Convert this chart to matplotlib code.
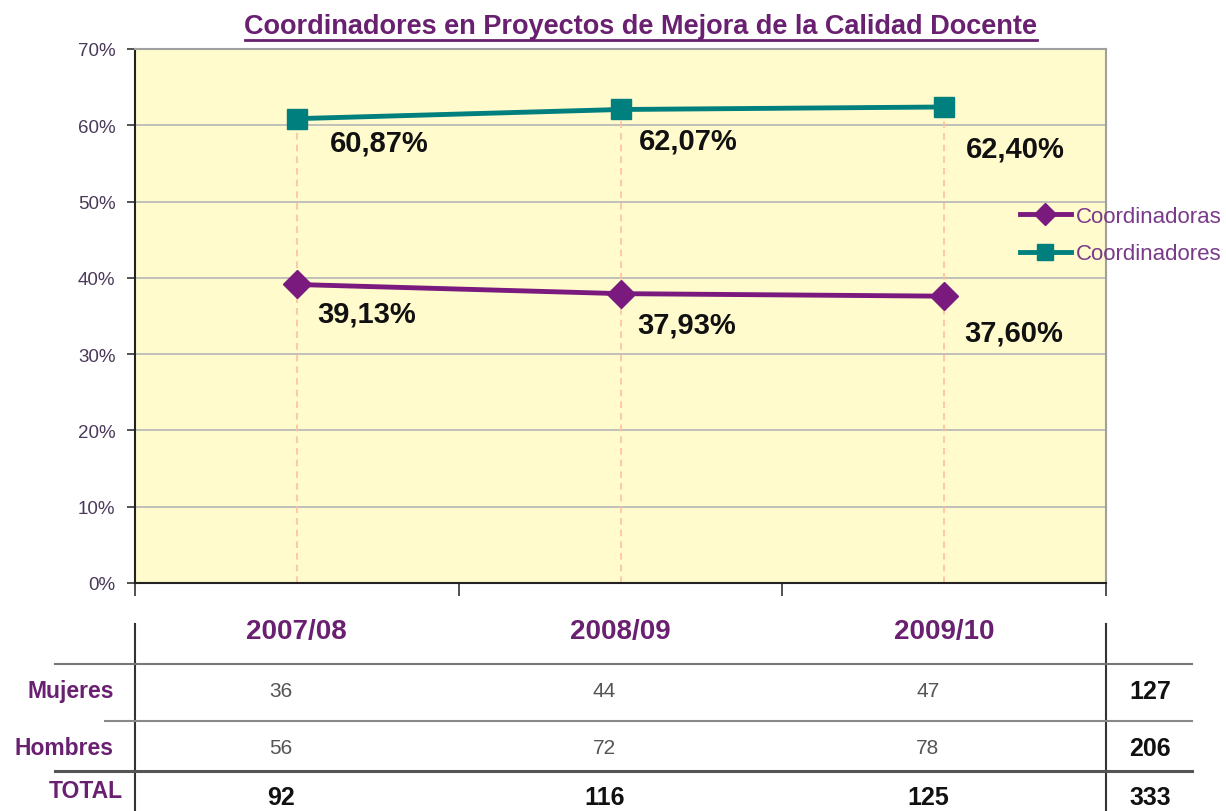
import numpy as np
import matplotlib.pyplot as plt
import matplotlib.transforms as mtransforms
from matplotlib.lines import Line2D

plt.rcParams['font.family'] = ['Liberation Sans', 'DejaVu Sans']

years = ['2007/08', '2008/09', '2009/10']
coordinadoras = [39.13, 37.93, 37.60]
coordinadores = [60.87, 62.07, 62.40]
mujeres = [36, 44, 47]
hombres = [56, 72, 78]
totales = [92, 116, 125]
total_mujeres = 127
total_hombres = 206
total_general = 333

purple = '#7A1A7E'
teal = '#007F7F'
label_purple = '#6A2070'

W, H = 1226, 812
fig = plt.figure(figsize=(W / 100, H / 100), dpi=100)

def fx(px):
    return px / W

def fy(py):
    return 1 - py / H

ax = fig.add_axes([fx(135), fy(584), fx(1106) - fx(135), fy(50) - fy(584)])
ax.set_facecolor('#FFFBCC')

x = np.arange(len(years)) + 0.5
ax.set_xlim(0, 3)
ax.set_ylim(0, 70)
ax.set_yticks(np.arange(0, 71, 10))
ax.set_yticklabels([f'{v}%' for v in range(0, 71, 10)], fontsize=13.5, color='#4A3A5A')
ax.set_xticks([0, 1, 2, 3])
ax.set_xticklabels([])
ax.tick_params(axis='x', direction='out', length=9, width=1.2, color='#333333')
ax.tick_params(axis='y', direction='out', length=6, width=1.2, color='#333333', pad=8)
ax.grid(axis='y', color='#BBBBBB', linewidth=1.3)
ax.set_axisbelow(True)
for s in ['top', 'right']:
    ax.spines[s].set_color('#A0A0A0')
    ax.spines[s].set_linewidth(1.5)
for s in ['left', 'bottom']:
    ax.spines[s].set_color('#222222')
    ax.spines[s].set_linewidth(1.5)

# drop lines
for xi, yi in zip(x, coordinadores):
    ax.plot([xi, xi], [0, yi], ls=(0, (4, 3)), color='#FFC0A0', lw=1.2, zorder=1)

ax.plot(x, coordinadoras, color=purple, lw=3.5, marker='D', ms=14, zorder=3)
ax.plot(x, coordinadores, color=teal, lw=3.5, marker='s', ms=15, zorder=3)

# label offsets in pixels (dx right, dy down)
top_off = [(33, 24), (18, 31), (22, 42)]
bot_off = [(20, 29), (17, 31), (20, 36)]
for vals, offs in [(coordinadores, top_off), (coordinadoras, bot_off)]:
    for xi, yi, off in zip(x, vals, offs):
        ax.annotate(f'{yi:.2f}%'.replace('.', ','), (xi, yi),
                    xytext=(off[0] * 0.72, -off[1] * 0.72),
                    textcoords='offset points', ha='left', va='center', fontsize=21,
                    fontweight='bold', color='#111111', zorder=4)

# legend
handles = [Line2D([], [], color=purple, lw=3.5, marker='D', ms=11),
           Line2D([], [], color=teal, lw=3.5, marker='s', ms=11)]
fig.legend(handles, ['Coordinadoras', 'Coordinadores'], loc='center left',
           bbox_to_anchor=(fx(1004), fy(236)), frameon=False, fontsize=16,
           labelcolor='#7A3A8A', handlelength=2.3, handletextpad=0.25, labelspacing=0.75,
           borderpad=0.2)

# title
fig.text(fx(641), fy(27), 'Coordinadores en Proyectos de Mejora de la Calidad Docente',
         ha='center', va='center', fontsize=19.5, fontweight='bold', color=label_purple)
fig.add_artist(Line2D([fx(245), fx(1037)], [fy(41), fy(41)], color=label_purple, lw=2))

# table below
def fline(x0, x1, y0, y1, lw=1.5, color='#666666'):
    fig.add_artist(Line2D([fx(x0), fx(x1)], [fy(y0), fy(y1)], color=color, lw=lw))

fline(135, 135, 625, 812, color='#333333')
fline(1106, 1106, 625, 812, color='#333333')
fline(55, 1192, 665, 665, color='#777777')
fline(105, 1192, 722, 722, color='#888888')
fline(55, 1192, 772, 772, lw=2.2, color='#555555')

blend = mtransforms.blended_transform_factory(ax.transData, fig.transFigure)
for xi, yr, m, h, t in zip(x, years, mujeres, hombres, totales):
    fig.text(xi, fy(632), yr, transform=blend, ha='center', va='center', fontsize=20,
             fontweight='bold', color=label_purple)
    xv = xi - 0.05
    fig.text(xv, fy(692), str(m), transform=blend, ha='center', va='center', fontsize=15,
             color='#555555')
    fig.text(xv, fy(749), str(h), transform=blend, ha='center', va='center', fontsize=15,
             color='#555555')
    fig.text(xv, fy(798), str(t), transform=blend, ha='center', va='center', fontsize=18,
             fontweight='bold', color='#111111')

for lbl, yy, xr in zip(['Mujeres', 'Hombres', 'TOTAL'], [692, 749, 792], [114, 114, 123]):
    fig.text(fx(xr), fy(yy), lbl, ha='right', va='center',
             fontsize=16.5, fontweight='bold', color=label_purple)

for val, yy in zip([total_mujeres, total_hombres, total_general], [692, 749, 798]):
    fig.text(fx(1150), fy(yy), str(val), ha='center', va='center', fontsize=18,
             fontweight='bold', color='#111111')

fig.savefig('out.png', dpi=100)
